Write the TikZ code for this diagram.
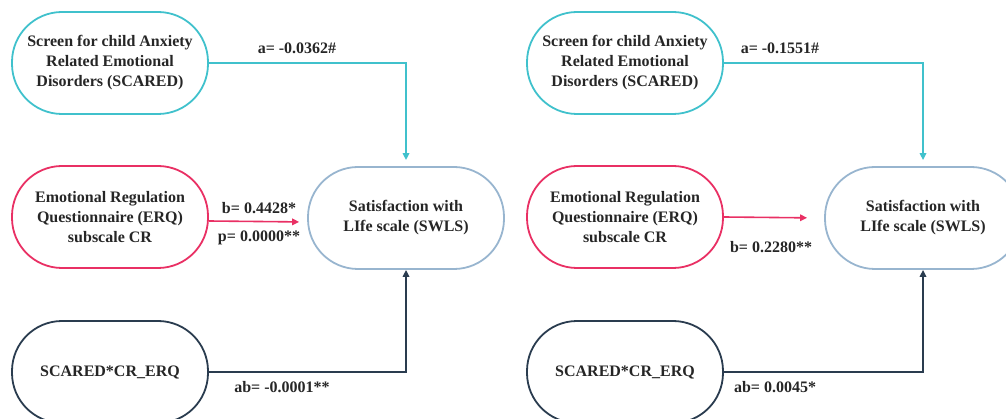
\documentclass[tikz,border=0pt]{standalone}
\usepackage{fontspec}
\setmainfont{Liberation Serif}
\newfontfamily\modelfont{Liberation Serif}[BoldFont={Liberation Serif Bold}]
\definecolor{scaredcol}{RGB}{64,193,204}
\definecolor{erqcol}{RGB}{233,48,100}
\definecolor{swlscol}{RGB}{152,181,207}
\definecolor{intcol}{RGB}{42,60,79}
\usetikzlibrary{arrows.meta, positioning}
\tikzset{
  varbox/.style={draw, line width=1.8pt, rounded corners=50pt, minimum width=196pt,
    minimum height=102pt, align=center, text=black!85,
    font=\modelfont\fontsize{16}{20}\selectfont\bfseries},
  coef/.style={text=black!85, font=\modelfont\fontsize{16}{20}\selectfont\bfseries},
  effect/.style={line width=1.6pt, -{Triangle[length=7pt,width=6.5pt]}}
}

\begin{document}
\begin{tikzpicture}[x=1pt,y=-1pt]
	\useasboundingbox (0,0) rectangle (1006,419);
	% left model
	\node[varbox, draw=scaredcol] (scaredL) at (110,63) {Screen for child Anxiety\\Related Emotional\\Disorders (SCARED)};
	\node[varbox, draw=erqcol] (erqL) at (110,217) {Emotional Regulation\\Questionnaire (ERQ)\\subscale CR};
	\node[varbox, draw=swlscol] (swlsL) at (406,218) {Satisfaction with\\LIfe scale (SWLS)};
	\node[varbox, draw=intcol] (intL) at (110,372) {SCARED*CR\_ERQ};
	
	\draw[effect, scaredcol, shorten >=6pt] (scaredL.east) -| (swlsL.north);
	\draw[effect, erqcol, shorten >=8pt] ([yshift=-4pt]erqL.east) -- ([yshift=-4pt]swlsL.west);
	\draw[effect, intcol] (intL.east) -| (swlsL.south);
	
	\node[coef] (aL) at (297,48) {a= -0.0362\#};
	\node[coef] (bL) at (259,208) {b= 0.4428*};
	\node[coef] (pL) at (259,238) {p= 0.0000**};
	\node[coef] (abL) at (282,387) {ab= -0.0001**};
	
	% right model
	\node[varbox, draw=scaredcol] (scaredR) at (625,63) {Screen for child Anxiety\\Related Emotional\\Disorders (SCARED)};
	\node[varbox, draw=erqcol] (erqR) at (625,217) {Emotional Regulation\\Questionnaire (ERQ)\\subscale CR};
	\node[varbox, draw=swlscol] (swlsR) at (923,218) {Satisfaction with\\LIfe scale (SWLS)};
	\node[varbox, draw=intcol] (intR) at (625,372) {SCARED*CR\_ERQ};
	
	\draw[effect, scaredcol, shorten >=6pt] (scaredR.east) -| (swlsR.north);
	\draw[effect, erqcol, shorten >=17pt] (erqR.east) -- (swlsR.west);
	\draw[effect, intcol] (intR.east) -| (swlsR.south);
	
	\node[coef] (aR) at (780,48) {a= -0.1551\#};
	\node[coef] (bR) at (771,247) {b= 0.2280**};
	\node[coef] (abR) at (775,387) {ab= 0.0045*};
\end{tikzpicture}
\end{document}
